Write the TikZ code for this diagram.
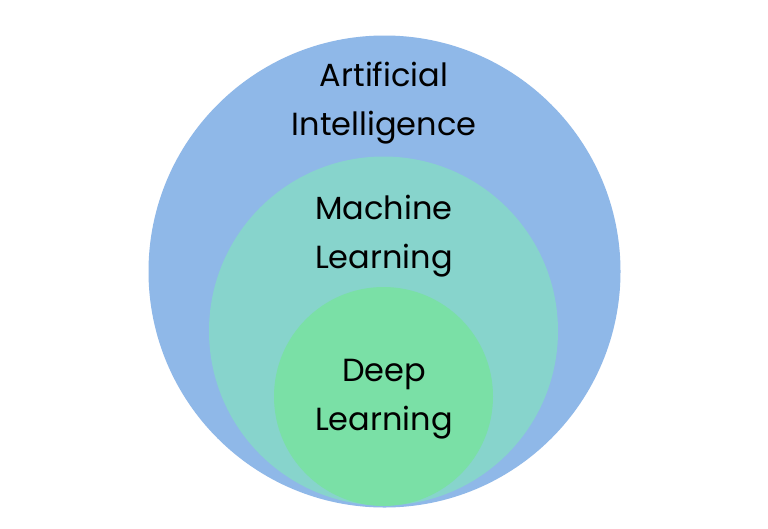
\documentclass[tikz,border=0pt]{standalone}
\usepackage{fontspec}
\setmainfont{Poppins}
\definecolor{aiblue}{RGB}{143,184,232}
\definecolor{mlteal}{RGB}{135,212,204}
\definecolor{dlgreen}{RGB}{122,224,166}
\tikzset{
  setcircle/.style={circle, draw=none, inner sep=0pt},
  setlabel/.style={align=center, anchor=base, text=black, font=\fontsize{32}{49}\selectfont, inner sep=0pt}
}
\begin{document}
\begin{tikzpicture}[x=1pt,y=-1pt]
\useasboundingbox[fill=white] (0,0) rectangle (768,528);
\node[setcircle, fill=aiblue, minimum size=472pt] (ai) at (384.5,271.5) {};
\node[setcircle, fill=mlteal, minimum size=349pt] (ml) at (383.5,331) {};
\node[setcircle, fill=dlgreen, minimum size=219pt] (dl) at (383.5,396.5) {};
\node[setlabel] (ailabel) at (384,135) {Artificial\\Intelligence};
\node[setlabel] (mllabel) at (384,268) {Machine\\Learning};
\node[setlabel] (dllabel) at (384,430) {Deep\\Learning};
\end{tikzpicture}
\end{document}
